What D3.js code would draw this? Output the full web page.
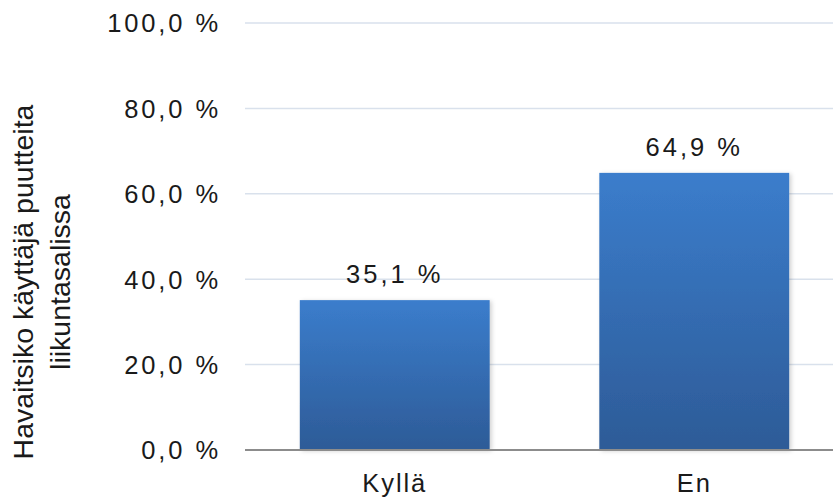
<!DOCTYPE html>
<html>
<head>
<meta charset="utf-8">
<script src="https://cdn.jsdelivr.net/npm/d3@7/dist/d3.min.js"></script>
<style>
  html, body { margin: 0; padding: 0; background: #ffffff; }
  svg { display: block; }
  text { font-family: "Liberation Sans", Arial, sans-serif; fill: #1a1a1a; }
</style>
</head>
<body>
<svg id="chart" width="833" height="499"></svg>
<script>
// Survey answers: did the user notice shortcomings in the sports hall?
const categories = ["Kyllä", "En"];
const shares = [35.1, 64.9];
const tickValues = [0, 20, 40, 60, 80, 100];
const axisTitleLines = ["Havaitsiko käyttäjä puutteita", "liikuntasalissa"];

const fmt = v => d3.format(".1f")(v).replace(".", ",") + " %";

const svg = d3.select("#chart");
const W = 833, H = 499;
const margin = { left: 245, right: -11, top: 23, bottom: 49 };

const x = d3.scaleBand()
  .domain(categories)
  .range([margin.left, W - margin.right])
  .paddingInner(0.366)
  .paddingOuter(0.183);

const y = d3.scaleLinear()
  .domain([0, 100])
  .range([H - margin.bottom, margin.top]);

const defs = svg.append("defs");
const grad = defs.append("linearGradient")
  .attr("id", "barFill").attr("x1", 0).attr("y1", 0).attr("x2", 0).attr("y2", 1);
grad.append("stop").attr("offset", "0%").attr("stop-color", "#3b7dcc");
grad.append("stop").attr("offset", "100%").attr("stop-color", "#2d5b97");

const shadow = defs.append("filter").attr("id", "barShadow")
  .attr("x", "-10%").attr("y", "-10%").attr("width", "130%").attr("height", "130%");
shadow.append("feDropShadow")
  .attr("dx", 2).attr("dy", 1).attr("stdDeviation", 2)
  .attr("flood-color", "#000").attr("flood-opacity", 0.18);

// Horizontal gridlines
svg.append("g")
  .selectAll("line")
  .data(tickValues.filter(v => v > 0))
  .join("line")
  .attr("x1", margin.left).attr("x2", W)
  .attr("y1", d => y(d)).attr("y2", d => y(d))
  .attr("stroke", "#d9e1ec").attr("stroke-width", 1.5);

// Y axis labels
const yAxis = d3.axisLeft(y).tickValues(tickValues).tickFormat(fmt).tickSize(0).tickPadding(0);
const yg = svg.append("g").attr("transform", `translate(${221},0)`).call(yAxis);
yg.select(".domain").remove();
yg.selectAll("text")
  .attr("font-size", 25.5).attr("letter-spacing", "2.9px")
  .attr("font-family", "Liberation Sans, Arial, sans-serif")
  .attr("fill", "#1a1a1a").attr("dy", "0.35em");

// Bars
svg.append("g")
  .selectAll("rect")
  .data(shares)
  .join("rect")
  .attr("x", (d, i) => x(categories[i]))
  .attr("width", x.bandwidth())
  .attr("y", d => y(d))
  .attr("height", d => y(0) - y(d))
  .attr("fill", "url(#barFill)")
  .attr("filter", "url(#barShadow)");

// Baseline
svg.append("line")
  .attr("x1", margin.left).attr("x2", W)
  .attr("y1", y(0)).attr("y2", y(0))
  .attr("stroke", "#8c8c8c").attr("stroke-width", 2);

// Value labels
svg.append("g")
  .selectAll("text")
  .data(shares)
  .join("text")
  .attr("x", (d, i) => x(categories[i]) + x.bandwidth() / 2)
  .attr("y", d => y(d) - 17)
  .attr("text-anchor", "middle")
  .attr("font-size", 25.5).attr("letter-spacing", "3px")
  .text(d => fmt(d));

// Category labels
const xAxis = d3.axisBottom(x).tickSize(0).tickPadding(0);
const xg = svg.append("g").attr("transform", `translate(0,${y(0)})`).call(xAxis);
xg.select(".domain").remove();
xg.selectAll("text")
  .attr("font-size", 25.5).attr("letter-spacing", "1.9px")
  .attr("font-family", "Liberation Sans, Arial, sans-serif")
  .attr("fill", "#1a1a1a").attr("dy", 0).attr("y", 42);

// Rotated axis title
const title = svg.append("text")
  .attr("transform", "rotate(-90)")
  .attr("text-anchor", "middle")
  .attr("font-size", 28.5);
title.selectAll("tspan")
  .data(axisTitleLines)
  .join("tspan")
  .attr("x", -282)
  .attr("y", (d, i) => 33 + i * 37)
  .text(d => d);
</script>
</body>
</html>
